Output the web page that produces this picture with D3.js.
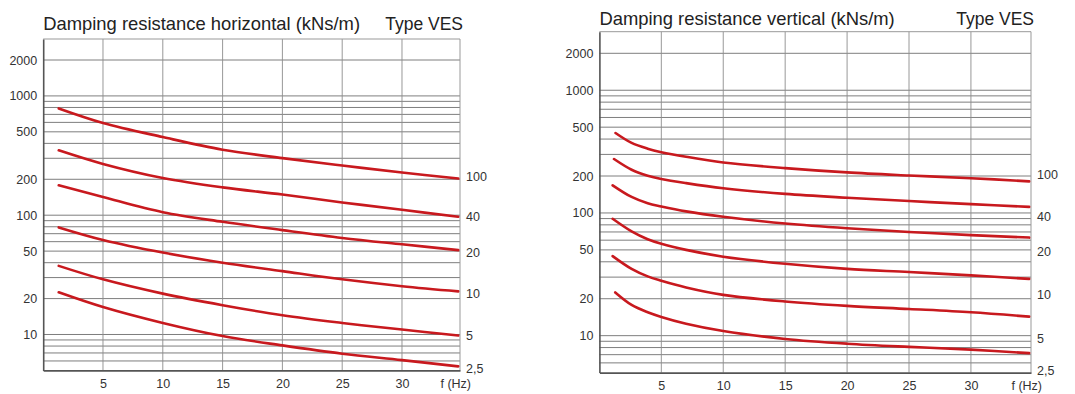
<!DOCTYPE html>
<html>
<head>
<meta charset="utf-8">
<script src="https://cdn.jsdelivr.net/npm/d3@7"></script>
<style>
  html, body { margin: 0; padding: 0; background: #fff; }
  svg { display: block; font-family: 'Liberation Sans', Arial, sans-serif; }
</style>
</head>
<body>
<div id="chart"></div>
<script>
// series labels (printed at right of each plot)
const seriesLabels = ['100', '40', '20', '10', '5', '2,5'];

// horizontal damping (kNs/m) read at these frequencies
const freqH = [1.3, 5, 10, 15, 20, 25, 30, 34.7];
const h100 = [785, 593, 452, 354, 301, 261, 228, 203];
const h40 = [350, 269, 205, 171, 149, 128, 111, 97];
const h20 = [178, 142, 106, 88, 75, 64.5, 57, 51];
const h10 = [79, 62, 48.6, 40, 34, 29, 25.4, 23];
const h5 = [37.6, 29, 22, 17.6, 14.5, 12.5, 11, 9.8];
const h2_5 = [22.6, 17, 12.5, 9.7, 8.1, 6.9, 6.1, 5.4];

// vertical damping: first frequency differs per curve
const freqV = [2.6, 3.9, 5, 7, 10, 15, 20, 25, 30, 34.7];
const startV = [1.3, 1.18, 1.07, 1.07, 1.07, 1.28];
const v100 = [448, 372, 334, 313, 287, 258, 232, 214, 202, 192, 181];
const v40 = [275, 225, 201, 189, 175, 159, 143, 133, 125, 118, 112];
const v20 = [168, 135, 120, 113, 103, 93, 82, 75, 70, 66, 63];
const v10 = [89.6, 70.7, 61, 56, 50, 44, 38.5, 35, 33, 31, 29];
const v5 = [44.5, 35, 30.4, 28, 24.7, 21.5, 19, 17.5, 16.5, 15.5, 14.3];
const v2_5 = [22.5, 17.8, 15.5, 14.2, 12.5, 10.9, 9.4, 8.6, 8.1, 7.7, 7.2];

// where the right-hand labels sit (in axis values)
const labelAtH = [210, 98, 49, 22, 9.7, 5.2];
const labelAtV = [206, 94, 48, 21.4, 9.4, 5.15];

const xTicks = [5, 10, 15, 20, 25, 30];
const yTicks = [2000, 1000, 500, 200, 100, 50, 20, 10];
const yGrid = [2000, 1000, 900, 800, 700, 600, 500, 400, 300, 200,
  100, 90, 80, 70, 60, 50, 40, 30, 20, 10, 9, 8, 7, 6];
const xDomain = [0, 34.85];
const yDomain = [5, 3000];

const W = 1075, H = 394;
const svg = d3.select('#chart').append('svg').attr('width', W).attr('height', H);

function panel(cfg) {
  const x = d3.scaleLinear().domain(xDomain).range([cfg.left, cfg.right]);
  const y = d3.scaleLog().domain(yDomain).range([cfg.bottom, cfg.top]);
  const g = svg.append('g');

  // grid
  g.append('g').selectAll('line').data(yGrid).join('line')
    .attr('x1', cfg.left).attr('x2', cfg.right)
    .attr('y1', d => y(d)).attr('y2', d => y(d))
    .attr('stroke', '#6f6f6f').attr('stroke-width', 0.9);
  g.append('g').selectAll('line').data(xTicks).join('line')
    .attr('x1', d => x(d)).attr('x2', d => x(d))
    .attr('y1', cfg.top).attr('y2', cfg.bottom)
    .attr('stroke', '#8c8c8c').attr('stroke-width', 0.9);

  // frame
  g.append('line').attr('x1', cfg.left).attr('x2', cfg.right).attr('y1', y(yDomain[1])).attr('y2', y(yDomain[1]))
    .attr('stroke', '#999').attr('stroke-width', 1);
  g.append('line').attr('x1', cfg.right).attr('x2', cfg.right).attr('y1', cfg.top).attr('y2', cfg.bottom)
    .attr('stroke', '#999').attr('stroke-width', 1);

  // axes
  const yAx = g.append('g').attr('transform', `translate(${cfg.left},0)`)
    .call(d3.axisLeft(y).tickValues(yTicks).tickSize(0).tickPadding(6).tickFormat(d3.format('d')));
  yAx.select('.domain').attr('stroke', '#555').attr('stroke-width', 1.6);
  yAx.selectAll('text').style('font-size', '12.5px').style('fill', '#333')
    .style('font-family', "'Liberation Sans', Arial, sans-serif");

  const xAx = g.append('g').attr('transform', `translate(0,${cfg.bottom})`)
    .call(d3.axisBottom(x).tickValues(xTicks).tickSize(0).tickPadding(cfg.xPad).tickFormat(d3.format('d')));
  xAx.select('.domain').attr('stroke', '#555').attr('stroke-width', 1.6);
  xAx.selectAll('text').style('font-size', '12.5px').style('fill', '#333')
    .style('font-family', "'Liberation Sans', Arial, sans-serif");

  g.append('text').attr('x', cfg.right + 11).attr('y', cfg.bottom + cfg.xPad)
    .attr('dy', '0.71em').attr('text-anchor', 'end')
    .style('font-size', '12.5px').style('fill', '#333').text('f (Hz)');

  // curves
  const line = d3.line().x(d => x(d[0])).y(d => y(d[1])).curve(d3.curveCatmullRom.alpha(0.5));
  g.append('g').selectAll('path').data(cfg.series).join('path')
    .attr('d', line).attr('fill', 'none')
    .attr('stroke', '#c8191e').attr('stroke-width', 2.6).attr('stroke-linecap', 'round');

  // curve labels
  g.append('g').selectAll('text').data(seriesLabels).join('text')
    .attr('x', cfg.right + 6).attr('y', (d, i) => y(cfg.labelAt[i])).attr('dy', '0.35em')
    .style('font-size', '12.5px').style('fill', '#333').text(d => d);

  // titles
  g.append('text').attr('x', cfg.left).attr('y', cfg.titleY)
    .style('font-size', '18.4px').style('fill', '#222').text(cfg.title);
  g.append('text').attr('x', cfg.right + 3).attr('y', cfg.titleY).attr('text-anchor', 'end')
    .style('font-size', '17.5px').style('fill', '#222').text('Type VES');
}

const hSeries = [h100, h40, h20, h10, h5, h2_5].map(arr => arr.map((v, i) => [freqH[i], v]));
const vSeries = [v100, v40, v20, v10, v5, v2_5].map((arr, k) =>
  arr.map((v, i) => [i === 0 ? startV[k] : freqV[i - 1], v]));

panel({
  left: 43.2, right: 460, top: 39, bottom: 370.4, xPad: 9, titleY: 29.5,
  title: 'Damping resistance horizontal (kNs/m)', series: hSeries, labelAt: labelAtH
});
panel({
  left: 599.4, right: 1031, top: 31.7, bottom: 372.6, xPad: 9, titleY: 25,
  title: 'Damping resistance vertical (kNs/m)', series: vSeries, labelAt: labelAtV
});
</script>
</body>
</html>
